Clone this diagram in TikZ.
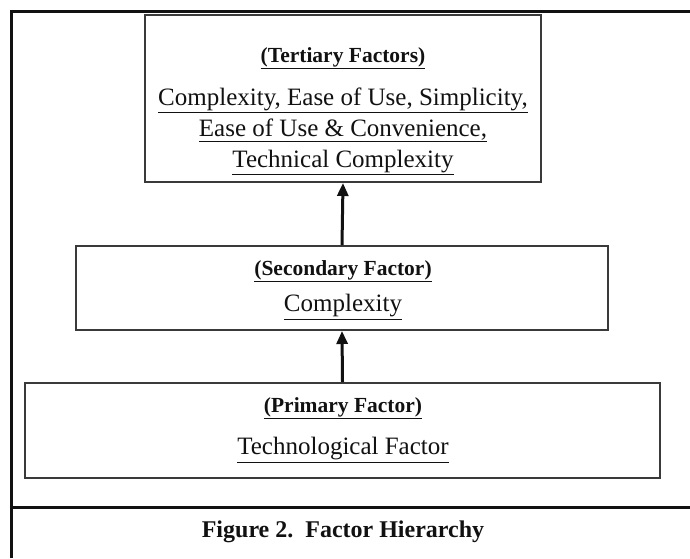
\documentclass[tikz,border=0pt]{standalone}
\usepackage{fontspec}
\setmainfont{Liberation Serif}
\usepackage{xcolor}
\usetikzlibrary{arrows.meta,positioning}
\definecolor{BoxLine}{HTML}{3A3A3A}
\definecolor{Ink}{HTML}{111111}
\newcommand{\uln}[1]{\underline{#1}}

\begin{document}
\begin{tikzpicture}[
  x=1pt,y=-1pt,
  box/.style={draw=BoxLine,line width=2pt,fill=white,inner sep=0pt},
  head/.style={font=\fontsize{21.5}{25}\selectfont\bfseries,text=Ink},
  item/.style={font=\fontsize{25}{31}\selectfont,text=Ink,align=center},
  rise/.style={-{Triangle[length=13pt,width=11pt]},draw=Ink,line width=3pt},
  frame/.style={draw=Ink,line width=3pt}
]
  \useasboundingbox (0,0) rectangle (690,558);

  % outer frame and caption row
  \draw[frame] (11,558) -- (11,11) -- (690,11);
  \draw[frame] (11,507) -- (690,507);

  % the three levels
  \node[box,minimum width=396pt,minimum height=167pt] (tertiary) at (343,98.5) {};
  \node[box,minimum width=532pt,minimum height=84pt] (secondary) at (342,288) {};
  \node[box,minimum width=635pt,minimum height=95pt] (primary) at (342.5,430.5) {};

  \node[head] (tertiaryhead) at (343,58) {\uln{(Tertiary Factors)}};
  \node[item] (tertiaryitems) at (343,131)
    {\uln{Complexity, Ease of Use, Simplicity,}\\
     \uln{Ease of Use \& Convenience,}\\
     \uln{Technical Complexity}};

  \node[head] (secondaryhead) at (343,271) {\uln{(Secondary Factor)}};
  \node[item] (secondaryitem) at (343,307) {\uln{Complexity}};

  \node[head] (primaryhead) at (343,408) {\uln{(Primary Factor)}};
  \node[item] (primaryitem) at (343,450) {\uln{Technological Factor}};

  \draw[rise] (secondary.north) -- (tertiary.south);
  \draw[rise] (primary.north) -- (secondary.south);

  \node[font=\fontsize{24}{28}\selectfont\bfseries,text=Ink] (caption)
    at (343,532) {Figure 2.\ \ Factor Hierarchy};
\end{tikzpicture}
\end{document}
